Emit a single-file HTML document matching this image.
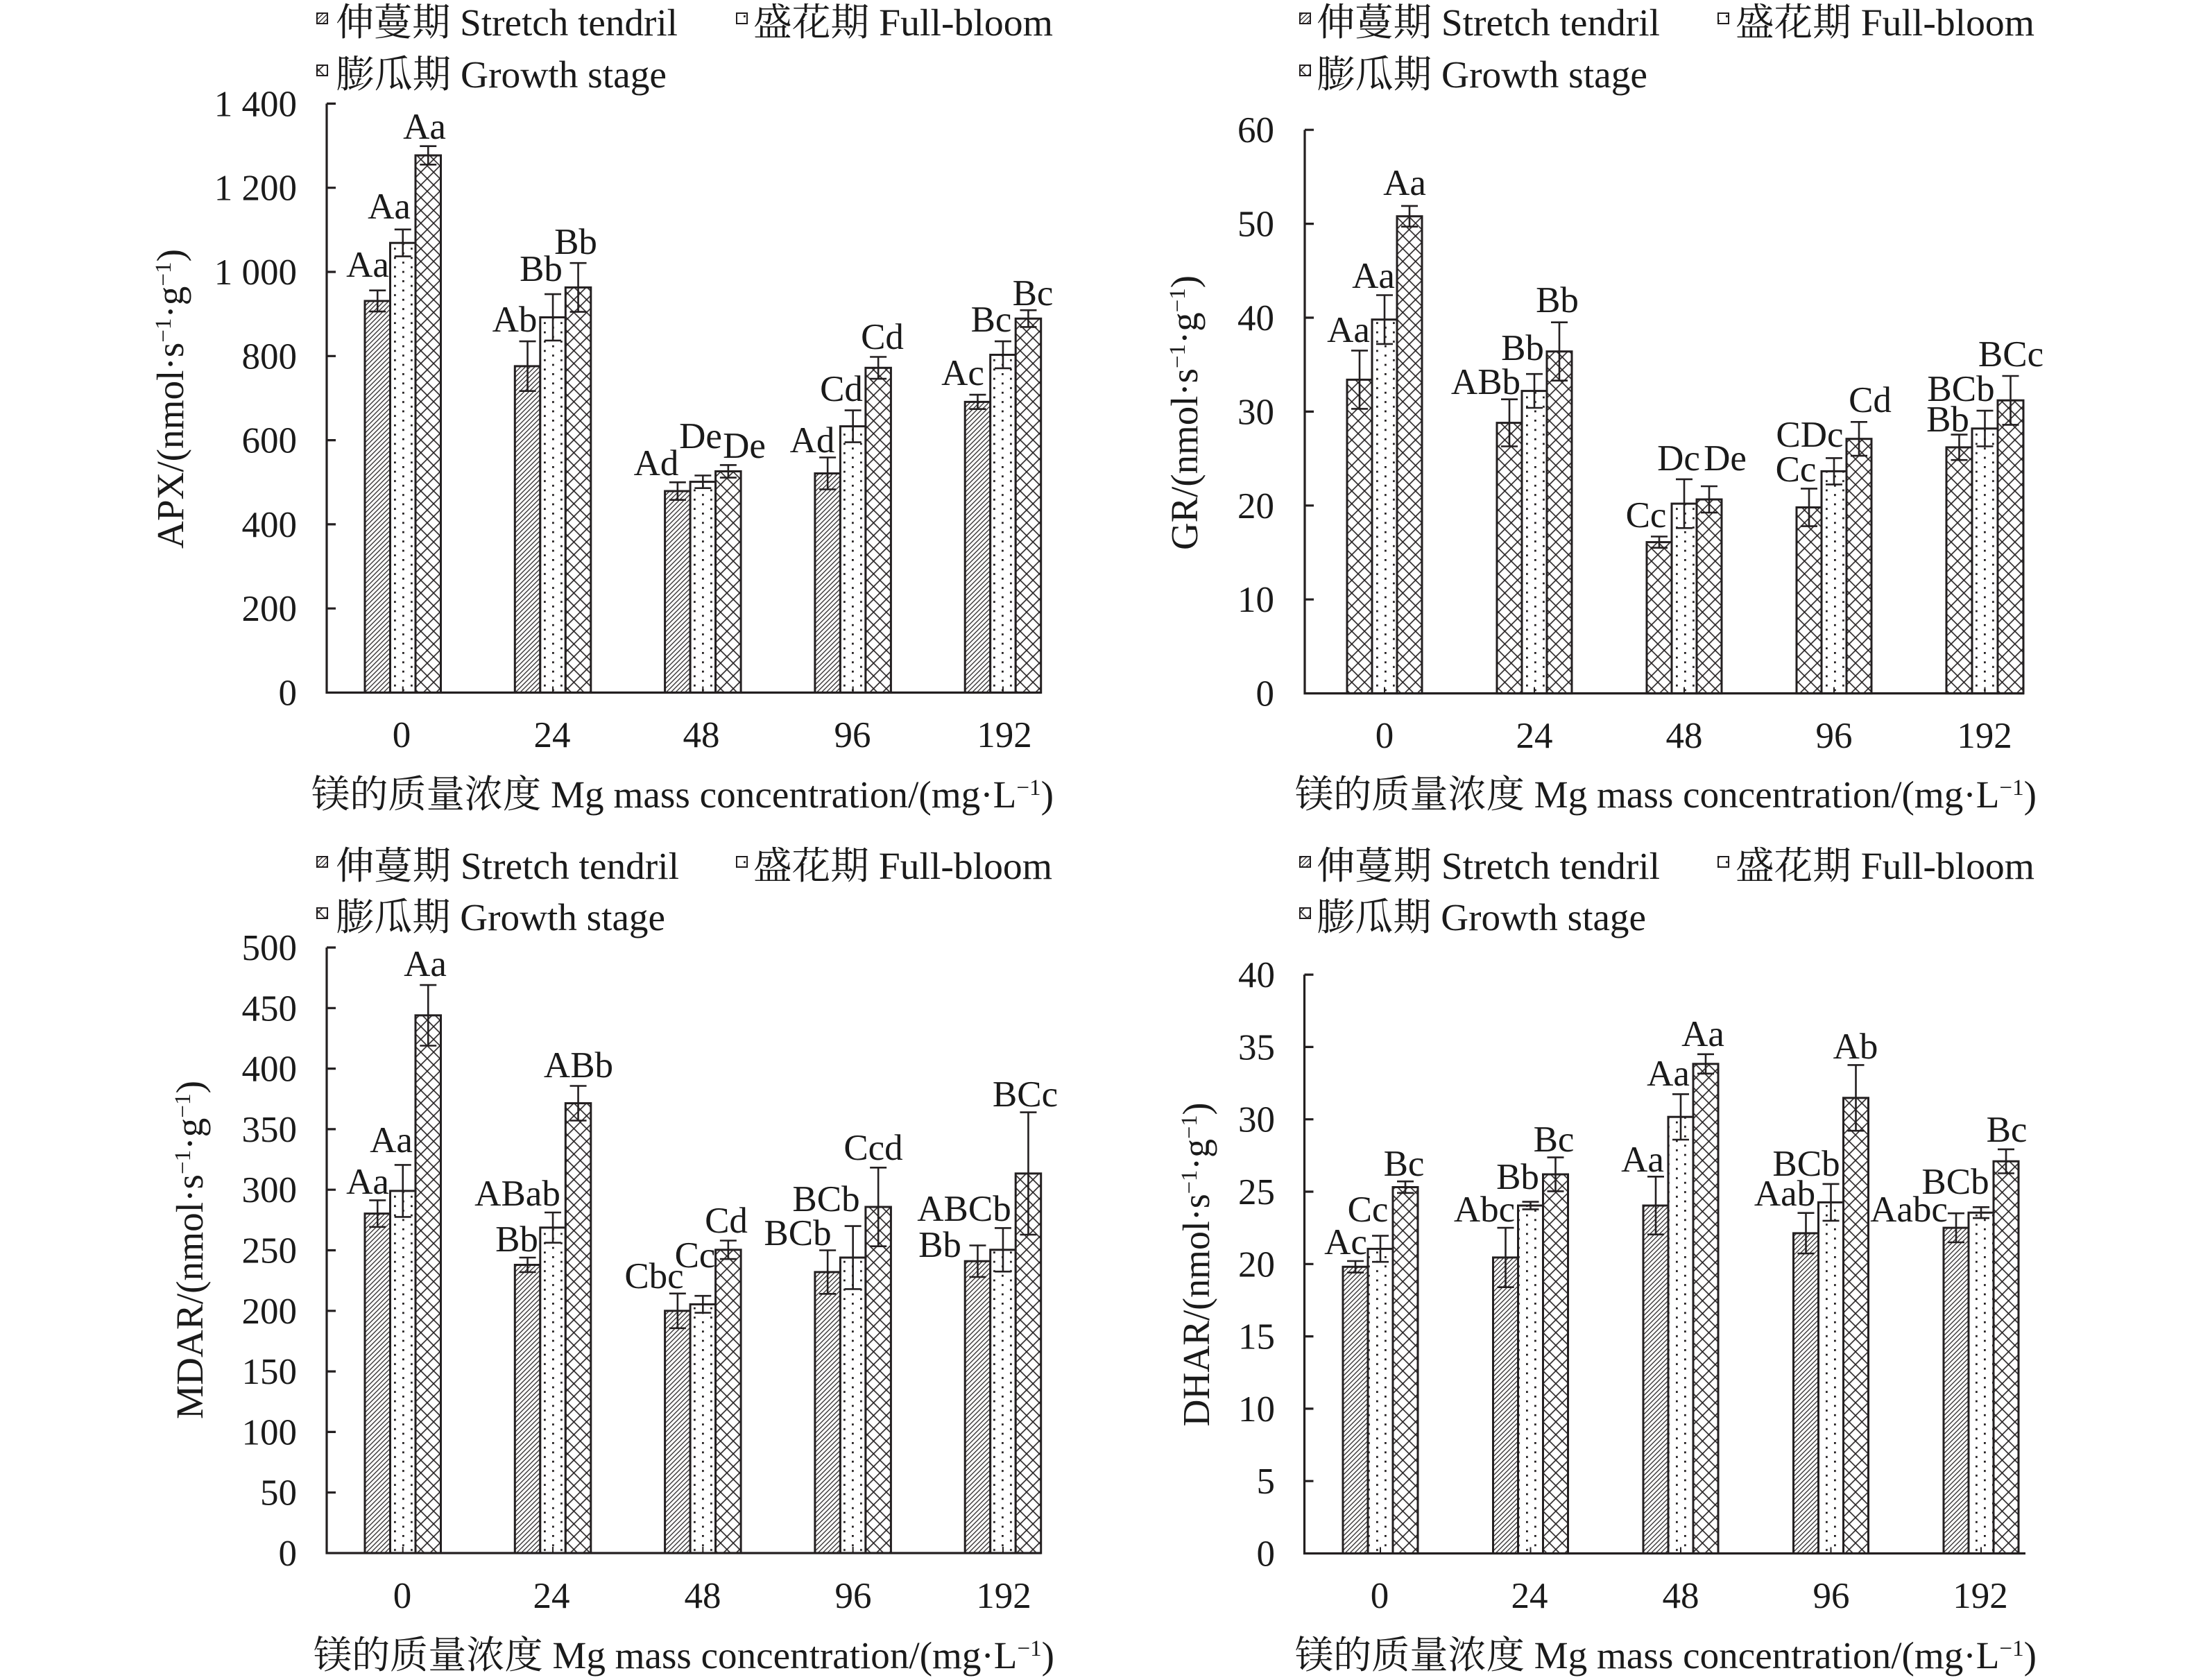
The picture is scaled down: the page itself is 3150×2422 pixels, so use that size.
<!DOCTYPE html>
<html>
<head>
<meta charset="utf-8">
<style>
  html,body{margin:0;padding:0;background:#fff;}
  svg{display:block;}
  text{font-family:"Liberation Serif","Noto Serif CJK SC","Noto Sans CJK SC",serif;fill:#1a1a1a;}
  .tk{font-size:53px;}
  .lb{font-size:53px;text-anchor:middle;}
  .lg{font-size:55px;}
  .tt{font-size:55px;}
</style>
</head>
<body>
<svg width="3150" height="2422" viewBox="0 0 3150 2422" xmlns="http://www.w3.org/2000/svg">
<defs>
  <pattern id="hatch" patternUnits="userSpaceOnUse" width="4.8" height="4.8" patternTransform="rotate(45)">
    <rect width="4.8" height="4.8" fill="#fff"/>
    <line x1="2.4" y1="-1" x2="2.4" y2="5.8" stroke="#231f20" stroke-width="1.25"/>
  </pattern>
  <pattern id="dots" patternUnits="userSpaceOnUse" width="24" height="13.4">
    <rect width="24" height="13.4" fill="#fff"/>
    <rect x="4" y="2" width="2.8" height="2.8" fill="#231f20"/>
    <rect x="16" y="8.7" width="2.8" height="2.8" fill="#231f20"/>
  </pattern>
  <pattern id="cross" patternUnits="userSpaceOnUse" width="13" height="13" patternTransform="rotate(45)">
    <rect width="13" height="13" fill="#fff"/>
    <line x1="6.5" y1="-1" x2="6.5" y2="14" stroke="#231f20" stroke-width="1.6"/>
    <line x1="-1" y1="6.5" x2="14" y2="6.5" stroke="#231f20" stroke-width="1.6"/>
  </pattern>
</defs>
<rect width="3150" height="2422" fill="#fff"/>

<!-- ================= PANEL 1 : APX ================= -->
<g stroke="#231f20" stroke-width="3">
  <rect x="526" y="433.9" width="36.5" height="564.6" fill="url(#hatch)"/>
  <rect x="562.5" y="350.2" width="36.5" height="648.3" fill="url(#dots)"/>
  <rect x="599" y="224.0" width="36.5" height="774.5" fill="url(#cross)"/>
  <rect x="742.3" y="527.9" width="36.5" height="470.6" fill="url(#hatch)"/>
  <rect x="778.8" y="457.5" width="36.5" height="541" fill="url(#dots)"/>
  <rect x="815.3" y="414.4" width="36.5" height="584.1" fill="url(#cross)"/>
  <rect x="958.6" y="708" width="36.5" height="290.5" fill="url(#hatch)"/>
  <rect x="995.1" y="694.6" width="36.5" height="303.9" fill="url(#dots)"/>
  <rect x="1031.6" y="679.5" width="36.5" height="319" fill="url(#cross)"/>
  <rect x="1174.9" y="682.5" width="36.5" height="316" fill="url(#hatch)"/>
  <rect x="1211.4" y="614.6" width="36.5" height="383.9" fill="url(#dots)"/>
  <rect x="1247.9" y="530.3" width="36.5" height="468.2" fill="url(#cross)"/>
  <rect x="1391.2" y="579.4" width="36.5" height="419.1" fill="url(#hatch)"/>
  <rect x="1427.7" y="511.5" width="36.5" height="487" fill="url(#dots)"/>
  <rect x="1464.2" y="459.3" width="36.5" height="539.2" fill="url(#cross)"/>
</g>
<path fill="none" stroke="#231f20" stroke-width="2.6" d="
M544.25 418.7V449.1M532.25 418.7H556.25M532.25 449.1H556.25
M580.75 330.8V369.6M568.75 330.8H592.75M568.75 369.6H592.75
M617.25 210.7V237.3M605.25 210.7H629.25M605.25 237.3H629.25
M760.55 492.1V563.7M748.55 492.1H772.55M748.55 563.7H772.55
M797.05 424.1V490.9M785.05 424.1H809.05M785.05 490.9H809.05
M833.55 379.2V449.6M821.55 379.2H845.55M821.55 449.6H845.55
M976.85 695.3V720.7M964.85 695.3H988.85M964.85 720.7H988.85
M1013.35 685.5V703.7M1001.35 685.5H1025.35M1001.35 703.7H1025.35
M1049.85 670.4V688.6M1037.85 670.4H1061.85M1037.85 688.6H1061.85
M1193.15 659.5V705.5M1181.15 659.5H1205.15M1181.15 705.5H1205.15
M1229.65 591.6V637.6M1217.65 591.6H1241.65M1217.65 637.6H1241.65
M1266.15 514.5V546.1M1254.15 514.5H1278.15M1254.15 546.1H1278.15
M1409.45 569.1V589.7M1397.45 569.1H1421.45M1397.45 589.7H1421.45
M1445.95 492.1V530.9M1433.95 492.1H1457.95M1433.95 530.9H1457.95
M1482.45 447.2V471.4M1470.45 447.2H1494.45M1470.45 471.4H1494.45"/>
<path fill="none" stroke="#231f20" stroke-width="3.2" d="M471 149.4V998.5H1501
M471 149.4h13M471 270.7h13M471 392h13M471 513.3h13M471 634.6h13M471 755.9h13M471 877.2h13"/>
<path fill="none" stroke="#231f20" stroke-width="2" d="M580.75 998.5v-9M797.05 998.5v-9M1013.35 998.5v-9M1229.65 998.5v-9M1445.95 998.5v-9"/>
<g class="tk" text-anchor="end">
  <text x="428" y="1016.5">0</text>
  <text x="428" y="895.2">200</text>
  <text x="428" y="773.9">400</text>
  <text x="428" y="652.6">600</text>
  <text x="428" y="531.3">800</text>
  <text x="428" y="410">1 000</text>
  <text x="428" y="288.7">1 200</text>
  <text x="428" y="167.4">1 400</text>
</g>
<g class="tk" text-anchor="middle">
  <text x="579" y="1077">0</text>
  <text x="796" y="1077">24</text>
  <text x="1011" y="1077">48</text>
  <text x="1229" y="1077">96</text>
  <text x="1448" y="1077">192</text>
</g>
<g class="lb">
  <text x="530" y="399">Aa</text>
  <text x="561" y="315">Aa</text>
  <text x="612" y="200">Aa</text>
  <text x="742" y="478">Ab</text>
  <text x="780" y="405">Bb</text>
  <text x="830" y="366">Bb</text>
  <text x="946" y="685">Ad</text>
  <text x="1010" y="646">De</text>
  <text x="1073" y="660">De</text>
  <text x="1171" y="652">Ad</text>
  <text x="1213" y="578">Cd</text>
  <text x="1272" y="503">Cd</text>
  <text x="1388" y="555">Ac</text>
  <text x="1429" y="478">Bc</text>
  <text x="1489" y="440">Bc</text>
</g>
<text class="tt" transform="translate(264,575) rotate(-90)" text-anchor="middle" textLength="432" lengthAdjust="spacingAndGlyphs">APX/(nmol·s<tspan baseline-shift="super" font-size="33">−1</tspan>·g<tspan baseline-shift="super" font-size="33">−1</tspan>)</text>
<text class="tt" x="449" y="1164" textLength="1070" lengthAdjust="spacingAndGlyphs">镁的质量浓度 Mg mass concentration/(mg·L<tspan baseline-shift="super" font-size="33">−1</tspan>)</text>
<g stroke="#231f20" stroke-width="2">
  <rect x="457" y="19" width="15" height="15" fill="url(#hatch)"/>
  <rect x="1062" y="19" width="15" height="15" fill="url(#dots)"/>
  <rect x="457" y="94" width="15" height="15" fill="url(#cross)"/>
</g>
<text class="lg" x="484" y="51" textLength="493" lengthAdjust="spacingAndGlyphs">伸蔓期 Stretch tendril</text>
<text class="lg" x="1086" y="51" textLength="432" lengthAdjust="spacingAndGlyphs">盛花期 Full-bloom</text>
<text class="lg" x="484" y="126" textLength="477" lengthAdjust="spacingAndGlyphs">膨瓜期 Growth stage</text>

<!-- ================= PANEL 2 : GR ================= -->
<g stroke="#231f20" stroke-width="3">
  <rect x="1942" y="547.4" width="36" height="452.2" fill="url(#cross)"/>
  <rect x="1978" y="460.7" width="36" height="538.9" fill="url(#dots)"/>
  <rect x="2014" y="311.8" width="36" height="687.8" fill="url(#cross)"/>
  <rect x="2158" y="609.6" width="36" height="390" fill="url(#cross)"/>
  <rect x="2194" y="563.6" width="36" height="436" fill="url(#dots)"/>
  <rect x="2230" y="506.7" width="36" height="492.9" fill="url(#cross)"/>
  <rect x="2374" y="781.6" width="36" height="218" fill="url(#cross)"/>
  <rect x="2410" y="726.1" width="36" height="273.5" fill="url(#dots)"/>
  <rect x="2446" y="720" width="36" height="279.6" fill="url(#cross)"/>
  <rect x="2590" y="731.5" width="36" height="268.1" fill="url(#cross)"/>
  <rect x="2626" y="679.4" width="36" height="320.2" fill="url(#dots)"/>
  <rect x="2662" y="632.7" width="36" height="366.9" fill="url(#cross)"/>
  <rect x="2806" y="644.9" width="37" height="354.7" fill="url(#cross)"/>
  <rect x="2843" y="617.8" width="37" height="381.8" fill="url(#dots)"/>
  <rect x="2880" y="577.2" width="37" height="422.4" fill="url(#cross)"/>
</g>
<path fill="none" stroke="#231f20" stroke-width="2.6" d="
M1960 505.4V589.4M1948 505.4H1972M1948 589.4H1972
M1996 425.5V495.9M1984 425.5H2008M1984 495.9H2008
M2032 296.9V326.7M2020 296.9H2044M2020 326.7H2044
M2176 575.7V643.5M2164 575.7H2188M2164 643.5H2188
M2212 539.2V588M2200 539.2H2224M2200 588H2224
M2248 464.7V548.7M2236 464.7H2260M2236 548.7H2260
M2392 773.5V789.7M2380 773.5H2404M2380 789.7H2404
M2428 690.9V761.3M2416 690.9H2440M2416 761.3H2440
M2464 701V739M2452 701H2476M2452 739H2476
M2608 704.4V758.6M2596 704.4H2620M2596 758.6H2620
M2644 660.4V698.4M2632 660.4H2656M2632 698.4H2656
M2680 608.3V657.1M2668 608.3H2692M2668 657.1H2692
M2824.5 626.6V663.2M2812.5 626.6H2836.5M2812.5 663.2H2836.5
M2861.5 592.1V643.5M2849.5 592.1H2873.5M2849.5 643.5H2873.5
M2898.5 542V612.4M2886.5 542H2910.5M2886.5 612.4H2910.5"/>
<path fill="none" stroke="#231f20" stroke-width="3.2" d="M1881 187.2V999.6H2918
M1881 187.2h13M1881 322.6h13M1881 458h13M1881 593.4h13M1881 728.8h13M1881 864.2h13"/>
<path fill="none" stroke="#231f20" stroke-width="2" d="M1996 999.6v-9M2212 999.6v-9M2428 999.6v-9M2644 999.6v-9M2861.5 999.6v-9"/>
<g class="tk" text-anchor="end">
  <text x="1837" y="1017.6">0</text>
  <text x="1837" y="882.2">10</text>
  <text x="1837" y="746.8">20</text>
  <text x="1837" y="611.4">30</text>
  <text x="1837" y="476">40</text>
  <text x="1837" y="340.6">50</text>
  <text x="1837" y="205.2">60</text>
</g>
<g class="tk" text-anchor="middle">
  <text x="1996" y="1078">0</text>
  <text x="2212" y="1078">24</text>
  <text x="2428" y="1078">48</text>
  <text x="2644" y="1078">96</text>
  <text x="2861" y="1078">192</text>
</g>
<g class="lb">
  <text x="1944" y="493">Aa</text>
  <text x="1980" y="415">Aa</text>
  <text x="2025" y="281">Aa</text>
  <text x="2142" y="568">ABb</text>
  <text x="2195" y="519">Bb</text>
  <text x="2245" y="450">Bb</text>
  <text x="2373" y="760">Cc</text>
  <text x="2420" y="678">Dc</text>
  <text x="2487" y="678">De</text>
  <text x="2589" y="694">Cc</text>
  <text x="2609" y="644">CDc</text>
  <text x="2696" y="594">Cd</text>
  <text x="2808" y="622">Bb</text>
  <text x="2827" y="578">BCb</text>
  <text x="2899" y="528">BCc</text>
</g>
<text class="tt" transform="translate(1726,595) rotate(-90)" text-anchor="middle" textLength="396" lengthAdjust="spacingAndGlyphs">GR/(nmol·s<tspan baseline-shift="super" font-size="33">−1</tspan>·g<tspan baseline-shift="super" font-size="33">−1</tspan>)</text>
<text class="tt" x="1867" y="1164" textLength="1069" lengthAdjust="spacingAndGlyphs">镁的质量浓度 Mg mass concentration/(mg·L<tspan baseline-shift="super" font-size="33">−1</tspan>)</text>
<g stroke="#231f20" stroke-width="2">
  <rect x="1874" y="19" width="15" height="15" fill="url(#hatch)"/>
  <rect x="2477" y="19" width="15" height="15" fill="url(#dots)"/>
  <rect x="1874" y="94" width="15" height="15" fill="url(#cross)"/>
</g>
<text class="lg" x="1898" y="51" textLength="495" lengthAdjust="spacingAndGlyphs">伸蔓期 Stretch tendril</text>
<text class="lg" x="2502" y="51" textLength="431" lengthAdjust="spacingAndGlyphs">盛花期 Full-bloom</text>
<text class="lg" x="1898" y="126" textLength="477" lengthAdjust="spacingAndGlyphs">膨瓜期 Growth stage</text>

<!-- ================= PANEL 3 : MDAR ================= -->
<g stroke="#231f20" stroke-width="3">
  <rect x="526" y="1749.6" width="36.5" height="489.4" fill="url(#hatch)"/>
  <rect x="562.5" y="1716.9" width="36.5" height="522.1" fill="url(#dots)"/>
  <rect x="599" y="1463.8" width="36.5" height="775.2" fill="url(#cross)"/>
  <rect x="742.3" y="1823.5" width="36.5" height="415.5" fill="url(#hatch)"/>
  <rect x="778.8" y="1769.8" width="36.5" height="469.2" fill="url(#dots)"/>
  <rect x="815.3" y="1590.5" width="36.5" height="648.5" fill="url(#cross)"/>
  <rect x="958.6" y="1889.8" width="36.5" height="349.2" fill="url(#hatch)"/>
  <rect x="995.1" y="1880.4" width="36.5" height="358.6" fill="url(#dots)"/>
  <rect x="1031.6" y="1801.8" width="36.5" height="437.2" fill="url(#cross)"/>
  <rect x="1174.9" y="1833.9" width="36.5" height="405.1" fill="url(#hatch)"/>
  <rect x="1211.4" y="1813" width="36.5" height="426" fill="url(#dots)"/>
  <rect x="1247.9" y="1740" width="36.5" height="499" fill="url(#cross)"/>
  <rect x="1391.2" y="1818.2" width="36.5" height="420.8" fill="url(#hatch)"/>
  <rect x="1427.7" y="1801.8" width="36.5" height="437.2" fill="url(#dots)"/>
  <rect x="1464.2" y="1691.8" width="36.5" height="547.2" fill="url(#cross)"/>
</g>
<path fill="none" stroke="#231f20" stroke-width="2.6" d="
M544.25 1730.4V1768.8M532.25 1730.4H556.25M532.25 1768.8H556.25
M580.75 1679.4V1754.4M568.75 1679.4H592.75M568.75 1754.4H592.75
M617.25 1420.1V1507.5M605.25 1420.1H629.25M605.25 1507.5H629.25
M760.55 1813V1834M748.55 1813H772.55M748.55 1834H772.55
M797.05 1748V1791.6M785.05 1748H809.05M785.05 1791.6H809.05
M833.55 1565.5V1615.5M821.55 1565.5H845.55M821.55 1615.5H845.55
M976.85 1864.8V1914.8M964.85 1864.8H988.85M964.85 1914.8H988.85
M1013.35 1868.2V1892.6M1001.35 1868.2H1025.35M1001.35 1892.6H1025.35
M1049.85 1788.5V1815.1M1037.85 1788.5H1061.85M1037.85 1815.1H1061.85
M1193.15 1802.5V1865.3M1181.15 1802.5H1205.15M1181.15 1865.3H1205.15
M1229.65 1767.6V1858.4M1217.65 1767.6H1241.65M1217.65 1858.4H1241.65
M1266.15 1683.3V1796.7M1254.15 1683.3H1278.15M1254.15 1796.7H1278.15
M1409.45 1795.5V1840.9M1397.45 1795.5H1421.45M1397.45 1840.9H1421.45
M1445.95 1770.4V1833.2M1433.95 1770.4H1457.95M1433.95 1833.2H1457.95
M1482.45 1603.6V1780M1470.45 1603.6H1494.45M1470.45 1780H1494.45"/>
<path fill="none" stroke="#231f20" stroke-width="3.2" d="M471 1366V2239H1501
M471 1366h13M471 1453.3h13M471 1540.6h13M471 1627.9h13M471 1715.2h13M471 1802.5h13M471 1889.8h13M471 1977.1h13M471 2064.4h13M471 2151.7h13"/>
<path fill="none" stroke="#231f20" stroke-width="2" d="M580.75 2239v-9M797.05 2239v-9M1013.35 2239v-9M1229.65 2239v-9M1445.95 2239v-9"/>
<g class="tk" text-anchor="end">
  <text x="428" y="2257">0</text>
  <text x="428" y="2169.7">50</text>
  <text x="428" y="2082.4">100</text>
  <text x="428" y="1995.1">150</text>
  <text x="428" y="1907.8">200</text>
  <text x="428" y="1820.5">250</text>
  <text x="428" y="1733.2">300</text>
  <text x="428" y="1645.9">350</text>
  <text x="428" y="1558.6">400</text>
  <text x="428" y="1471.3">450</text>
  <text x="428" y="1384">500</text>
</g>
<g class="tk" text-anchor="middle">
  <text x="580" y="2318">0</text>
  <text x="795" y="2318">24</text>
  <text x="1013" y="2318">48</text>
  <text x="1230" y="2318">96</text>
  <text x="1447" y="2318">192</text>
</g>
<g class="lb">
  <text x="530" y="1721">Aa</text>
  <text x="564" y="1661">Aa</text>
  <text x="613" y="1407">Aa</text>
  <text x="745" y="1804">Bb</text>
  <text x="746" y="1738">ABab</text>
  <text x="834" y="1553">ABb</text>
  <text x="943" y="1857">Cbc</text>
  <text x="1002" y="1827">Cc</text>
  <text x="1047" y="1777">Cd</text>
  <text x="1150" y="1795">BCb</text>
  <text x="1191" y="1746">BCb</text>
  <text x="1259" y="1672">Ccd</text>
  <text x="1355" y="1812">Bb</text>
  <text x="1390" y="1760">ABCb</text>
  <text x="1478" y="1595">BCc</text>
</g>
<text class="tt" transform="translate(292,1802) rotate(-90)" text-anchor="middle" textLength="488" lengthAdjust="spacingAndGlyphs">MDAR/(nmol·s<tspan baseline-shift="super" font-size="33">−1</tspan>·g<tspan baseline-shift="super" font-size="33">−1</tspan>)</text>
<text class="tt" x="452" y="2405" textLength="1068" lengthAdjust="spacingAndGlyphs">镁的质量浓度 Mg mass concentration/(mg·L<tspan baseline-shift="super" font-size="33">−1</tspan>)</text>
<g stroke="#231f20" stroke-width="2">
  <rect x="457" y="1235" width="15" height="15" fill="url(#hatch)"/>
  <rect x="1062" y="1235" width="15" height="15" fill="url(#dots)"/>
  <rect x="457" y="1309" width="15" height="15" fill="url(#cross)"/>
</g>
<text class="lg" x="484" y="1267" textLength="495" lengthAdjust="spacingAndGlyphs">伸蔓期 Stretch tendril</text>
<text class="lg" x="1086" y="1267" textLength="431" lengthAdjust="spacingAndGlyphs">盛花期 Full-bloom</text>
<text class="lg" x="484" y="1341" textLength="475" lengthAdjust="spacingAndGlyphs">膨瓜期 Growth stage</text>

<!-- ================= PANEL 4 : DHAR ================= -->
<g stroke="#231f20" stroke-width="3">
  <rect x="1936" y="1826.3" width="36" height="413.2" fill="url(#hatch)"/>
  <rect x="1972" y="1800.4" width="36" height="439.1" fill="url(#dots)"/>
  <rect x="2008" y="1711.5" width="36" height="528" fill="url(#cross)"/>
  <rect x="2152.5" y="1812.9" width="36" height="426.6" fill="url(#hatch)"/>
  <rect x="2188.5" y="1738" width="36" height="501.5" fill="url(#dots)"/>
  <rect x="2224.5" y="1693" width="36" height="546.5" fill="url(#cross)"/>
  <rect x="2369" y="1738" width="36" height="501.5" fill="url(#hatch)"/>
  <rect x="2405" y="1610.2" width="36" height="629.3" fill="url(#dots)"/>
  <rect x="2441" y="1533.8" width="36" height="705.7" fill="url(#cross)"/>
  <rect x="2585.5" y="1777.9" width="36" height="461.6" fill="url(#hatch)"/>
  <rect x="2621.5" y="1733.4" width="36" height="506.1" fill="url(#dots)"/>
  <rect x="2657.5" y="1582.8" width="36" height="656.7" fill="url(#cross)"/>
  <rect x="2802" y="1770.1" width="36" height="469.4" fill="url(#hatch)"/>
  <rect x="2838" y="1748.2" width="36" height="491.3" fill="url(#dots)"/>
  <rect x="2874" y="1674.2" width="36" height="565.3" fill="url(#cross)"/>
</g>
<path fill="none" stroke="#231f20" stroke-width="2.6" d="
M1954 1818V1834.6M1942 1818H1966M1942 1834.6H1966
M1990 1781.6V1819.2M1978 1781.6H2002M1978 1819.2H2002
M2026 1703.2V1719.8M2014 1703.2H2038M2014 1719.8H2038
M2170.5 1770.1V1855.7M2158.5 1770.1H2182.5M2158.5 1855.7H2182.5
M2206.5 1732.6V1743.4M2194.5 1732.6H2218.5M2194.5 1743.4H2218.5
M2242.5 1668.6V1717.4M2230.5 1668.6H2254.5M2230.5 1717.4H2254.5
M2387 1696.3V1779.7M2375 1696.3H2399M2375 1779.7H2399
M2423 1577.4V1643M2411 1577.4H2435M2411 1643H2435
M2459 1519.8V1547.8M2447 1519.8H2471M2447 1547.8H2471
M2603.5 1748.7V1807.1M2591.5 1748.7H2615.5M2591.5 1807.1H2615.5
M2639.5 1706.9V1759.9M2627.5 1706.9H2651.5M2627.5 1759.9H2651.5
M2675.5 1535.4V1630.2M2663.5 1535.4H2687.5M2663.5 1630.2H2687.5
M2820 1749.2V1791M2808 1749.2H2832M2808 1791H2832
M2856 1740.3V1756.1M2844 1740.3H2868M2844 1756.1H2868
M2892 1656.9V1691.5M2880 1656.9H2904M2880 1691.5H2904"/>
<path fill="none" stroke="#231f20" stroke-width="3.2" d="M1880.5 1405.1V2239.5H2920
M1880.5 1405.1h13M1880.5 1509.4h13M1880.5 1613.7h13M1880.5 1718h13M1880.5 1822.3h13M1880.5 1926.6h13M1880.5 2030.9h13M1880.5 2135.2h13"/>
<path fill="none" stroke="#231f20" stroke-width="2" d="M1990 2239.5v-9M2206.5 2239.5v-9M2423 2239.5v-9M2639.5 2239.5v-9M2856 2239.5v-9"/>
<g class="tk" text-anchor="end">
  <text x="1838" y="2257.5">0</text>
  <text x="1838" y="2153.2">5</text>
  <text x="1838" y="2048.9">10</text>
  <text x="1838" y="1944.6">15</text>
  <text x="1838" y="1840.3">20</text>
  <text x="1838" y="1736">25</text>
  <text x="1838" y="1631.7">30</text>
  <text x="1838" y="1527.4">35</text>
  <text x="1838" y="1423.1">40</text>
</g>
<g class="tk" text-anchor="middle">
  <text x="1989" y="2318">0</text>
  <text x="2205" y="2318">24</text>
  <text x="2423" y="2318">48</text>
  <text x="2640" y="2318">96</text>
  <text x="2855" y="2318">192</text>
</g>
<g class="lb">
  <text x="1940" y="1808">Ac</text>
  <text x="1972" y="1761">Cc</text>
  <text x="2024" y="1695">Bc</text>
  <text x="2140" y="1761">Abc</text>
  <text x="2188" y="1714">Bb</text>
  <text x="2240" y="1660">Bc</text>
  <text x="2368" y="1689">Aa</text>
  <text x="2405" y="1565">Aa</text>
  <text x="2455" y="1508">Aa</text>
  <text x="2573" y="1738">Aab</text>
  <text x="2604" y="1695">BCb</text>
  <text x="2675" y="1526">Ab</text>
  <text x="2752" y="1761">Aabc</text>
  <text x="2819" y="1721">BCb</text>
  <text x="2893" y="1646">Bc</text>
</g>
<text class="tt" transform="translate(1743,1823) rotate(-90)" text-anchor="middle" textLength="467" lengthAdjust="spacingAndGlyphs">DHAR/(nmol·s<tspan baseline-shift="super" font-size="33">−1</tspan>·g<tspan baseline-shift="super" font-size="33">−1</tspan>)</text>
<text class="tt" x="1867" y="2405" textLength="1069" lengthAdjust="spacingAndGlyphs">镁的质量浓度 Mg mass concentration/(mg·L<tspan baseline-shift="super" font-size="33">−1</tspan>)</text>
<g stroke="#231f20" stroke-width="2">
  <rect x="1874" y="1235" width="15" height="15" fill="url(#hatch)"/>
  <rect x="2477" y="1235" width="15" height="15" fill="url(#dots)"/>
  <rect x="1874" y="1309" width="15" height="15" fill="url(#cross)"/>
</g>
<text class="lg" x="1898" y="1267" textLength="495" lengthAdjust="spacingAndGlyphs">伸蔓期 Stretch tendril</text>
<text class="lg" x="2502" y="1267" textLength="431" lengthAdjust="spacingAndGlyphs">盛花期 Full-bloom</text>
<text class="lg" x="1898" y="1341" textLength="475" lengthAdjust="spacingAndGlyphs">膨瓜期 Growth stage</text>
</svg>
</body>
</html>
